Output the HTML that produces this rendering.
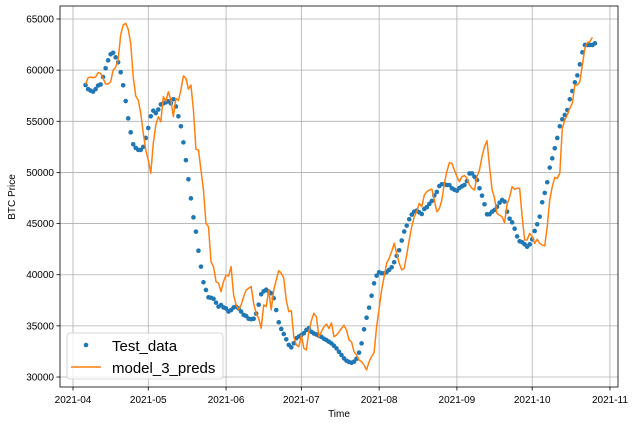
<!DOCTYPE html>
<html><head><meta charset="utf-8"><style>
body{margin:0;background:#fff;}
svg{display:block;font-family:"Liberation Sans","DejaVu Sans",sans-serif;}
</style></head><body>
<svg id="chart" width="637" height="425" viewBox="0 0 637 425" xmlns="http://www.w3.org/2000/svg">
<rect width="637" height="425" fill="#fff"/>
<g id="grid"></g>
<g id="ticks"></g>
<g id="series"></g>
<rect x="60" y="6" width="558" height="381" fill="none" stroke="#000" stroke-width="0.8"/>
<text transform="translate(15,197) rotate(-90)" text-anchor="middle" font-size="10">BTC Price</text>
<text x="339" y="417" text-anchor="middle" font-size="10">Time</text>
<g>
<rect x="67" y="333" width="156" height="46" rx="3" fill="#fff" fill-opacity="0.8" stroke="#ccc" stroke-width="0.8"/>
<circle cx="86" cy="345" r="2.3" fill="#1f77b4"/>
<text x="112" y="351" font-size="15">Test_data</text>
<line x1="71" y1="367" x2="101" y2="367" stroke="#ff7f0e" stroke-width="1.5"/>
<text x="112" y="373" font-size="15">model_3_preds</text>
</g>
</svg>
<script>
const startDay = 5; // days after 2021-04-01
const testData = [58550,58150,58000,57900,58150,58500,58600,59330,60180,60960,61550,61700,61250,60770,59790,58520,56980,55290,53920,52750,52400,52200,52200,52500,53370,54340,55490,56040,55800,56150,56650,56750,56850,56950,56750,57150,56450,55490,54510,52940,51200,49330,47470,
45610,44210,42350,40790,39260,38510,37790,37750,37650,37270,36880,37040,36800,36700,36400,36550,36800,36880,36700,36400,36070,35970,35700,35650,35700,36200,37070,38090,38380,38540,38350,38190,37700,36550,35350,34700,34210,33690,33140,32900,33300,33790,33960,34100,34280,34600,34770,
34420,34260,34160,34030,33930,33740,33610,33450,33290,33060,32800,32470,32150,31820,31590,31470,31400,31500,31790,32380,33290,34660,35800,36780,37950,39160,39910,40240,40140,40140,40270,40470,40730,41220,41840,42390,43340,44220,44800,45420,45880,46170,46270,46100,45940,46430,46600,46920,47210,47740,48100,
48670,48840,48840,48770,48770,48450,48310,48210,48480,48640,48770,49160,49900,49900,49580,49260,48450,47730,46890,45910,45910,46160,46330,46650,47040,47310,47150,46160,45480,45120,44500,43750,43270,43170,42970,42740,42970,43460,44280,44930,45680,47080,48000,49040,50470,51380,52360,53370,54510,55200,55620,56100,57150,57960,58810,59490,60570,61740,62460,62460,62460,62460,62620];
const predData = [58600,59250,59330,59270,59330,59750,59690,59200,58640,58640,58870,60010,60280,61000,63440,64410,64580,64000,62630,59360,57470,57080,55780,53830,52190,51220,49920,52850,54630,55440,54960,57400,56950,57890,57080,55450,57250,57030,58060,59430,59200,58150,58550,56100,52260,52190,50240,
48280,45030,44700,41280,40790,39330,39170,38340,39330,39970,39870,40790,38020,37040,36610,37040,37860,38510,38680,38840,37210,36230,35740,34760,37040,36880,38510,36560,38510,39490,40400,40140,39650,37530,36390,36480,33940,33130,32960,34100,32800,32640,34430,
35500,36230,35900,33940,34420,34910,35170,34750,35290,33940,34100,34400,34750,35070,34590,33620,33450,32470,32150,31660,31500,31170,30690,31500,31990,32380,34910,36700,38510,39810,41120,41610,42260,43070,42100,41120,40470,40630,41940,43400,44700,45670,46170,46980,46650,47790,48110,48280,48380,47300,46160,46450,
47310,48930,50080,50950,50900,50240,49580,49100,49580,49700,49420,48770,48450,48280,49580,50240,51540,52520,53100,50560,48350,47470,45990,45830,45670,45090,46900,47570,48610,48350,48450,48450,45670,43400,43400,44050,43720,43070,43460,43070,42900,42820,44700,47310,48610,49520,49420,49920,54310,55130,55620,56270,56760,58550,58550,58870,60500,62140,62690,62790,63210];
const yTicks = [30000,35000,40000,45000,50000,55000,60000,65000];
const xTickLabels = ["2021-04","2021-05","2021-06","2021-07","2021-08","2021-09","2021-10","2021-11"];
const xTickDays = [0,30,61,91,122,153,183,214];

const NS="http://www.w3.org/2000/svg";
const X0=60,X1=618,Y0=6,Y1=387;
const dMin=-5.18,dMax=217.2,vMin=29024,vMax=66271;
function xs(d){return X0+(d-dMin)/(dMax-dMin)*(X1-X0);}
function ys(v){return Y1-(v-vMin)/(vMax-vMin)*(Y1-Y0);}
function mk(tag,attrs,parent){const e=document.createElementNS(NS,tag);for(const k in attrs)e.setAttribute(k,attrs[k]);parent.appendChild(e);return e;}
const grid=document.getElementById('grid'),ticks=document.getElementById('ticks'),series=document.getElementById('series');
yTicks.forEach(v=>{
  const y=ys(v);
  const g=mk('line',{x1:X0,x2:X1,y1:y,y2:y,stroke:'#b0b0b0','stroke-width':0.8},grid);
  
  
  const t=mk('line',{x1:X0-3.5,x2:X0,y1:y,y2:y,stroke:'#000','stroke-width':0.8},ticks);
  
  
  const l=mk('text',{x:X0-6,y:y+3.5,'text-anchor':'end','font-size':10},ticks);
  l.textContent=v;
  
  
});
xTickDays.forEach((d,i)=>{
  const x=xs(d);
  const g=mk('line',{x1:x,x2:x,y1:Y0,y2:Y1,stroke:'#b0b0b0','stroke-width':0.8},grid);
  
  
  const t=mk('line',{x1:x,x2:x,y1:Y1,y2:Y1+3.5,stroke:'#000','stroke-width':0.8},ticks);
  
  
  const l=mk('text',{x:x,y:Y1+16,'text-anchor':'middle','font-size':10},ticks);
  l.textContent=xTickLabels[i];
  
  
});
testData.forEach((v,i)=>{
  const c=mk('circle',{cx:xs(startDay+i),cy:ys(v),r:2.3,fill:'#1f77b4'},series);
  
  
});
const pts=predData.map((v,i)=>xs(startDay+i).toFixed(2)+','+ys(v).toFixed(2)).join(' ');
const pl=mk('polyline',{points:pts,fill:'none',stroke:'#ff7f0e','stroke-width':1.5,'stroke-linejoin':'round'},series);


</script>
</body></html>
